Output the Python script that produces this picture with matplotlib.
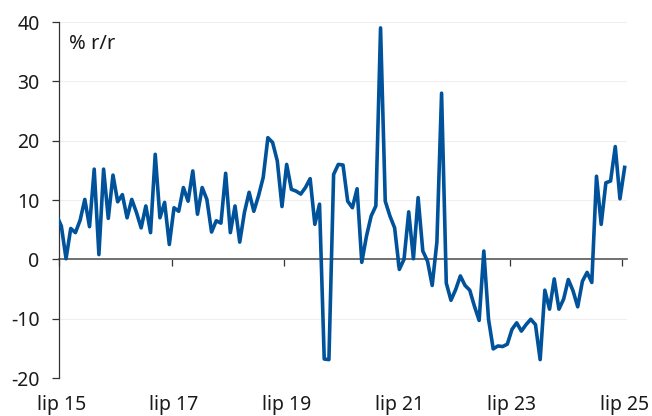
import matplotlib
matplotlib.use("Agg")
from matplotlib import pyplot as plt
import numpy as np

# monthly y/y change, Jun 2015 (clipped at the axis) .. Jul 2025
values = [
    7.4,
    5.6, 0.1, 5.2, 4.5, 6.6, 10.1, 5.5, 15.2, 0.8, 15.2, 6.9, 14.2,
    9.7, 10.9, 7.0, 10.1, 7.9, 5.3, 9.0, 4.5, 17.7, 7.0, 9.6, 2.5,
    8.7, 8.1, 12.1, 9.8, 14.9, 7.6, 12.1, 10.1, 4.6, 6.5, 6.1, 14.5,
    4.5, 9.0, 2.9, 7.9, 11.3, 8.1, 10.7, 13.8, 20.5, 19.7, 16.6, 8.9,
    16.0, 11.8, 11.5, 11.0, 12.1, 13.6, 5.9, 9.3, -16.8, -16.9, 14.3, 16.0,
    15.9, 9.8, 8.7, 11.9, -0.5, 3.9, 7.3, 9.0, 39.0, 9.8, 7.3, 5.3,
    -1.7, 0.0, 8.0, 0.1, 10.4, 1.4, -0.3, -4.4, 2.9, 28.0, -4.0, -6.9,
    -5.1, -2.8, -4.4, -5.2, -7.9, -10.3, 1.4, -10.1, -15.1, -14.6, -14.7, -14.3,
    -11.8, -10.7, -12.1, -11.0, -10.1, -11.0, -16.9, -5.2, -8.4, -3.3, -8.4, -6.7,
    -3.4, -5.3, -8.0, -3.7, -2.2, -3.9, 14.0, 5.9, 12.9, 13.2, 19.0, 10.2,
    15.5,
]
tick_labels = ["lip 15", "lip 17", "lip 19", "lip 21", "lip 23", "lip 25"]
y_label = "% r/r"

plt.rcParams['font.family'] = ['Noto Sans', 'DejaVu Sans']
plt.rcParams['axes.unicode_minus'] = False

fig = plt.figure(figsize=(6.52, 4.16), dpi=100)
ax = fig.add_axes([59 / 652, 38 / 416, (627 - 59) / 652, (378 - 22) / 416])

x = np.arange(len(values)) - 0.5
ax.plot(x, values, color="#00529b", lw=2.6, solid_joinstyle="round", zorder=3)

ax.set_xlim(0, 121)
ax.set_ylim(-20, 40)
ax.set_yticks(range(-20, 41, 10))
ax.grid(axis="y", color="#efefef", lw=0.8)
ax.set_axisbelow(True)

for s in ["top", "right"]:
    ax.spines[s].set_visible(False)
ax.spines["left"].set_color("#333333")
ax.spines["left"].set_linewidth(0.9)
ax.spines["bottom"].set_position(("data", 0))
ax.spines["bottom"].set_color("#595959")
ax.spines["bottom"].set_linewidth(1.2)
ax.spines["bottom"].set_zorder(2)

ticks = np.arange(0, 121, 24)
ax.set_xticks(ticks)
ax.tick_params(axis="x", direction="out", length=5, width=0.9, color="#333333", labelbottom=False)
ax.tick_params(axis="y", direction="out", length=5, width=0.9, color="#333333",
               labelsize=14, labelcolor="#1a1a1a", pad=9)

sec = ax.secondary_xaxis("bottom")
sec.set_xticks(ticks + 0.5, tick_labels)
sec.tick_params(length=0, pad=12, labelsize=14, labelcolor="#1a1a1a")
sec.spines["bottom"].set_visible(False)

ax.text(0.018, 0.965, y_label, transform=ax.transAxes, fontsize=14.5, color="#1a1a1a",
        ha="left", va="top")

fig.savefig("out.png", dpi=100)
